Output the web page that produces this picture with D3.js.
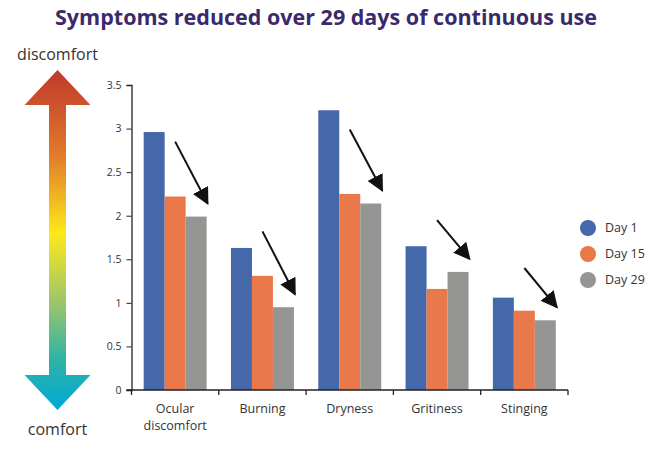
<!DOCTYPE html>
<html>
<head>
<meta charset="utf-8">
<script src="https://cdn.jsdelivr.net/npm/d3@7"></script>
<style>
  body { margin: 0; background: #fff; }
  svg text { font-family: "Open Sans", "DejaVu Sans", sans-serif; }
</style>
</head>
<body>
<div id="chart"></div>
<script>
const categories = [["Ocular", "discomfort"], ["Burning"], ["Dryness"], ["Gritiness"], ["Stinging"]];
const series = ["Day 1", "Day 15", "Day 29"];
const day1 = [2.96, 1.63, 3.21, 1.65, 1.06];
const day15 = [2.22, 1.31, 2.25, 1.16, 0.91];
const day29 = [1.99, 0.95, 2.14, 1.355, 0.80];
// where each trend arrow starts (in y units)
const arrowFrom = [2.85, 1.82, 2.99, 1.95, 1.40];
const yTicks = [0, 0.5, 1, 1.5, 2, 2.5, 3, 3.5];
const colors = ["#4468a9", "#e9794a", "#959694"];

const W = 666, H = 451;
const margin = { top: 85, right: 98, bottom: 61, left: 131.5 };

const svg = d3.select("#chart").append("svg")
    .attr("width", W)
    .attr("height", H);

// Title
svg.append("text")
    .attr("x", 326)
    .attr("y", 25)
    .attr("text-anchor", "middle")
    .attr("font-size", 21.5)
    .attr("font-weight", 700)
    .attr("fill", "#3b2a6b")
    .text("Symptoms reduced over 29 days of continuous use");

const x = d3.scaleBand()
    .domain(d3.range(categories.length))
    .range([margin.left, W - margin.right])
    .paddingInner(0);

const xSub = d3.scaleBand()
    .domain(d3.range(series.length))
    .range([0, x.bandwidth()])
    .paddingOuter(0.58)
    .paddingInner(0);

const y = d3.scaleLinear()
    .domain([0, 3.5])
    .range([H - margin.bottom, margin.top]);

const values = [day1, day15, day29];

// Bars
categories.forEach((c, i) => {
    const g = svg.append("g").attr("transform", `translate(${x(i)},0)`);
    g.selectAll("rect")
        .data(values.map((s, k) => ({ k, v: s[i] })))
        .enter()
        .append("rect")
        .attr("x", d => xSub(d.k))
        .attr("y", d => y(d.v))
        .attr("width", xSub.bandwidth())
        .attr("height", d => y(0) - y(d.v))
        .attr("fill", d => colors[d.k]);
});

// Y axis
const yAxis = svg.append("g")
    .attr("transform", `translate(${margin.left},0)`)
    .call(d3.axisLeft(y).tickValues(yTicks).tickSize(5).tickPadding(5).tickFormat(d3.format("")));
yAxis.selectAll("text").attr("font-size", 10.5).attr("fill", "#333");
yAxis.select(".domain").attr("stroke", "#222").attr("stroke-width", 1.3);
yAxis.selectAll(".tick line").attr("stroke", "#222");

// X axis with ticks at band boundaries
const xAxis = svg.append("g")
    .attr("transform", `translate(0,${y(0)})`);
xAxis.append("line")
    .attr("x1", margin.left - 5)
    .attr("x2", W - margin.right)
    .attr("stroke", "#222")
    .attr("stroke-width", 1.3);
xAxis.selectAll(".xt")
    .data(d3.range(categories.length + 1))
    .enter()
    .append("line")
    .attr("x1", i => i < categories.length ? x(i) : x(i - 1) + x.bandwidth())
    .attr("x2", i => i < categories.length ? x(i) : x(i - 1) + x.bandwidth())
    .attr("y1", 0)
    .attr("y2", 5)
    .attr("stroke", "#222")
    .attr("stroke-width", 1.3);

const labels = xAxis.selectAll(".xl")
    .data(categories)
    .enter()
    .append("text")
    .attr("text-anchor", "middle")
    .attr("font-size", 12.5)
    .attr("fill", "#333")
    .attr("transform", (d, i) => `translate(${x(i) + x.bandwidth() / 2},23)`);
labels.selectAll("tspan")
    .data(d => d)
    .enter()
    .append("tspan")
    .attr("x", 0)
    .attr("dy", (d, j) => j === 0 ? 0 : 17)
    .text(d => d);

// Trend arrows
const defs = svg.append("defs");
defs.append("marker")
    .attr("id", "head")
    .attr("viewBox", "0 0 10 10")
    .attr("refX", 9)
    .attr("refY", 5)
    .attr("markerWidth", 17)
    .attr("markerHeight", 17)
    .attr("markerUnits", "userSpaceOnUse")
    .attr("orient", "auto")
    .append("path")
    .attr("d", "M0,0 L10,5 L0,10 Z")
    .attr("fill", "#111");

svg.selectAll(".trend")
    .data(arrowFrom)
    .enter()
    .append("line")
    .attr("x1", (d, i) => x(i) + xSub(1) + xSub.bandwidth() / 2)
    .attr("y1", d => y(d))
    .attr("x2", (d, i) => x(i) + xSub(2) + xSub.bandwidth() + 1)
    .attr("y2", (d, i) => y(day29[i]) - 13)
    .attr("stroke", "#111")
    .attr("stroke-width", 2)
    .attr("marker-end", "url(#head)");

// Legend
const legend = svg.append("g");
series.forEach((s, k) => {
    legend.append("circle")
        .attr("cx", 588)
        .attr("cy", 228 + k * 26)
        .attr("r", 8)
        .attr("fill", colors[k]);
    legend.append("text")
        .attr("x", 605)
        .attr("y", 232 + k * 26)
        .attr("font-size", 12.5)
        .attr("fill", "#333")
        .text(s);
});

// Comfort scale arrow
const grad = defs.append("linearGradient")
    .attr("id", "scale")
    .attr("x1", 0).attr("y1", 0).attr("x2", 0).attr("y2", 1);
[["0", "#c0392b"], ["0.25", "#e07a2c"], ["0.48", "#fde919"], ["0.68", "#9dc66a"], ["0.85", "#2fb3a6"], ["1", "#00a9d6"]]
    .forEach(([o, c]) => grad.append("stop").attr("offset", o).attr("stop-color", c));

const ax = 57.5, arrTop = 70, arrBot = 410, hw = 33, sw = 8.5, hh = 35;
svg.append("path")
    .attr("d", `M${ax},${arrTop} L${ax + hw},${arrTop + hh} L${ax + sw},${arrTop + hh} L${ax + sw},${arrBot - hh} L${ax + hw},${arrBot - hh} L${ax},${arrBot} L${ax - hw},${arrBot - hh} L${ax - sw},${arrBot - hh} L${ax - sw},${arrTop + hh} L${ax - hw},${arrTop + hh} Z`)
    .attr("fill", "url(#scale)");

svg.append("text")
    .attr("x", ax)
    .attr("y", 60)
    .attr("text-anchor", "middle")
    .attr("font-size", 16)
    .attr("fill", "#333")
    .text("discomfort");
svg.append("text")
    .attr("x", ax)
    .attr("y", 435)
    .attr("text-anchor", "middle")
    .attr("font-size", 16)
    .attr("fill", "#333")
    .text("comfort");
</script>
</body>
</html>
